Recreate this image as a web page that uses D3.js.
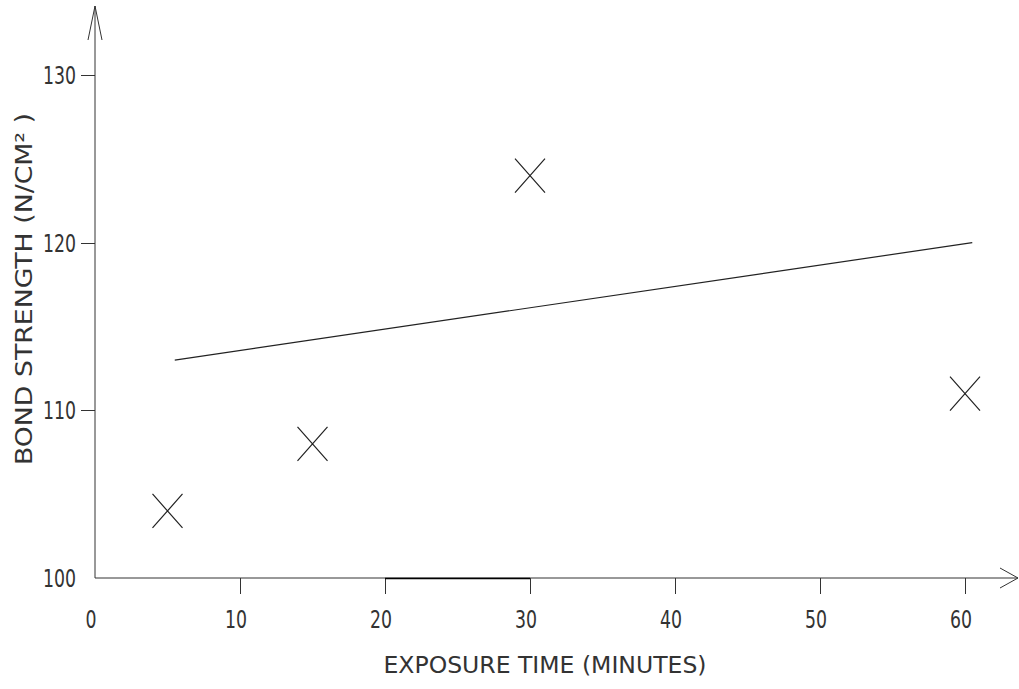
<!doctype html>
<html lang="en">
<head>
    <meta charset="utf-8">
    <title>Bond strength vs exposure time</title>
    <script src="https://cdnjs.cloudflare.com/ajax/libs/d3/7.8.5/d3.min.js"></script>
    <style>
        body { margin: 0; background: #fff; }
        text {
            font-family: "DejaVu Sans Condensed", "Liberation Sans Narrow", "Liberation Sans", sans-serif;
            font-stretch: condensed;
            font-weight: 300;
            fill: #333;
        }
        .axis path.domain { display: none; }
        .axis line { stroke: #333; stroke-width: 1; shape-rendering: crispEdges; }
    </style>
</head>
<body>
    <div id="chart"></div>
    <script>
        // data
        var exposureMinutes = [5, 15, 30, 60];
        var bondStrength = [104, 108, 124, 111];
        var fitX = [5.5, 60.5];
        var fitY = [113, 120];
        var xTickValues = [10, 20, 30, 40, 50, 60];
        var xTickLabels = [0, 10, 20, 30, 40, 50, 60];
        var yTickValues = [110, 120, 130];
        var yTickLabels = [100, 110, 120, 130];

        var width = 1019, height = 689;

        var x = d3.scaleLinear().domain([0, 60]).range([95, 965]);
        var y = d3.scaleLinear().domain([100, 130]).range([578, 75]);

        var svg = d3.select("#chart")
            .append("svg")
              .attr("width", width)
              .attr("height", height);

        // ticks (no tick at the origin)
        svg.append("g")
            .attr("class", "x axis")
            .attr("transform", "translate(0," + y(100) + ")")
            .call(d3.axisBottom(x).tickValues(xTickValues).tickSize(16).tickFormat(""));

        svg.append("g")
            .attr("class", "y axis")
            .attr("transform", "translate(" + x(0) + ",0)")
            .call(d3.axisLeft(y).tickValues(yTickValues).tickSize(14).tickFormat(""));

        // tick labels, drawn for every value including the origin
        svg.append("g").selectAll("text")
            .data(xTickLabels)
            .enter().append("text")
              .attr("x", function(d) { return x(d) - 4; })
              .attr("y", 628)
              .attr("text-anchor", "middle")
              .attr("textLength", function(d) { return String(d).length * 11; })
              .attr("lengthAdjust", "spacingAndGlyphs")
              .style("font-size", "24px")
              .text(function(d) { return d; });

        svg.append("g").selectAll("text")
            .data(yTickLabels)
            .enter().append("text")
              .attr("x", 76)
              .attr("y", function(d) { return y(d) + 9; })
              .attr("text-anchor", "end")
              .attr("textLength", 33)
              .attr("lengthAdjust", "spacingAndGlyphs")
              .style("font-size", "24px")
              .text(function(d) { return d; });

        // axis lines with open arrow heads
        var ax = svg.append("g")
            .attr("fill", "none")
            .attr("stroke", "#333")
            .attr("stroke-width", 1);

        ax.append("path")
            .attr("d", "M" + x(0) + "," + y(100) + "V6");
        ax.append("path")
            .attr("d", "M" + (x(0) - 7) + ",40L" + x(0) + ",6L" + (x(0) + 7) + ",40");
        ax.append("path")
            .attr("d", "M" + x(0) + "," + y(100) + "H1018");
        ax.append("path")
            .attr("d", "M1000," + (y(100) - 10) + "L1018," + y(100) + "L1000," + (y(100) + 10));

        // slightly heavier pen stroke on the axis between 20 and 30
        svg.append("line")
            .attr("x1", x(20)).attr("x2", x(30))
            .attr("y1", y(100) + 0.5).attr("y2", y(100) + 0.5)
            .attr("stroke", "#000")
            .attr("stroke-width", 1.6);

        // fitted line
        svg.append("path")
            .datum(d3.zip(fitX, fitY))
            .attr("fill", "none")
            .attr("stroke", "#222")
            .attr("stroke-width", 1.2)
            .attr("d", d3.line()
                .x(function(d) { return x(d[0]); })
                .y(function(d) { return y(d[1]); }));

        // X markers
        var hw = 15, hh = 17;
        svg.append("g").selectAll("path")
            .data(d3.zip(exposureMinutes, bondStrength))
            .enter().append("path")
              .attr("fill", "none")
              .attr("stroke", "#222")
              .attr("stroke-width", 1.2)
              .attr("d", function(d) {
                  var cx = x(d[0]), cy = y(d[1]);
                  return "M" + (cx - hw) + "," + (cy - hh) + "L" + (cx + hw) + "," + (cy + hh) +
                         "M" + (cx - hw) + "," + (cy + hh) + "L" + (cx + hw) + "," + (cy - hh);
              });

        // axis titles
        svg.append("text")
            .attr("x", 545)
            .attr("y", 673)
            .attr("text-anchor", "middle")
            .attr("textLength", 323)
            .attr("lengthAdjust", "spacingAndGlyphs")
            .style("font-size", "23px")
            .text("EXPOSURE TIME (MINUTES)");

        svg.append("text")
            .attr("transform", "translate(32,289) rotate(-90)")
            .attr("text-anchor", "middle")
            .attr("textLength", 352)
            .attr("lengthAdjust", "spacingAndGlyphs")
            .style("font-size", "23px")
            .text("BOND STRENGTH (N/CM\u00B2 )");
    </script>
</body>
</html>
